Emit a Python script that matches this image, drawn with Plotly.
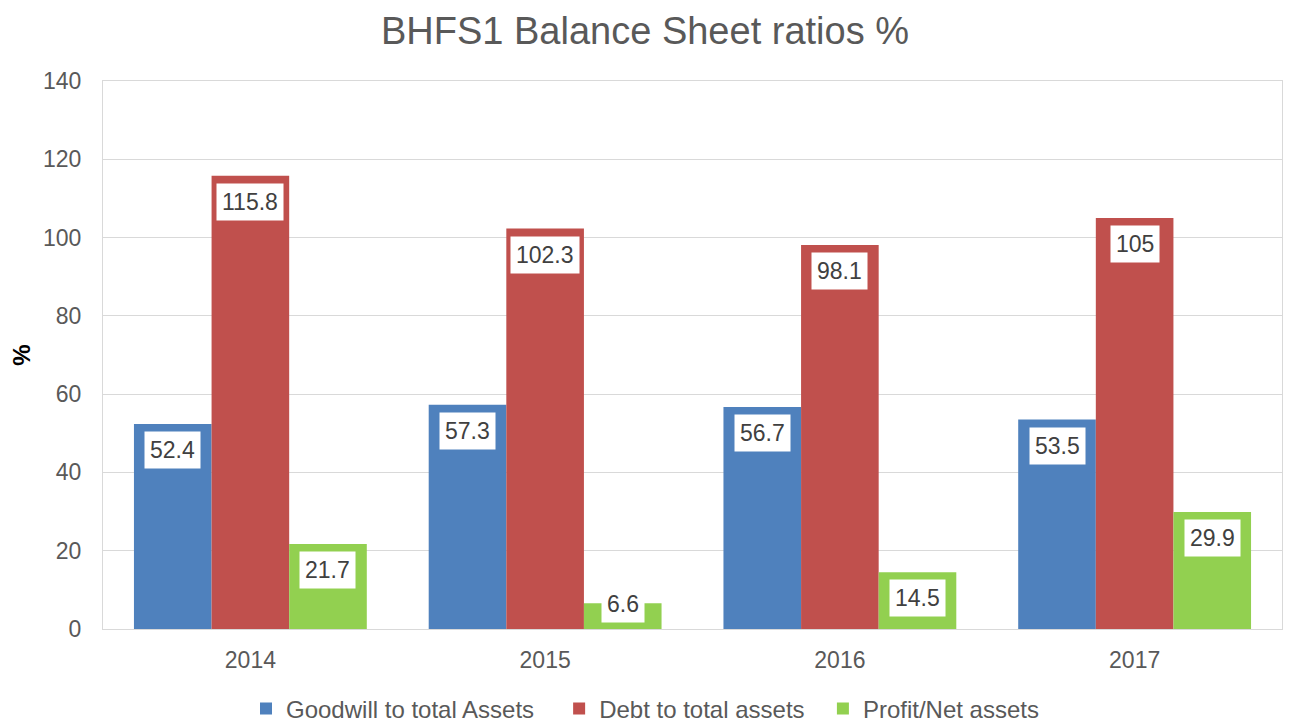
import plotly.graph_objects as go

years = ["2014", "2015", "2016", "2017"]
series_names = ["Goodwill to total Assets", "Debt to total assets", "Profit/Net assets"]
goodwill = [52.4, 57.3, 56.7, 53.5]
debt = [115.8, 102.3, 98.1, 105]
profit = [21.7, 6.6, 14.5, 29.9]
colors = ["#4F81BD", "#C0504D", "#92D050"]
legend_pads = [3, 2, 0]

FONT = "Liberation Sans, Arial, sans-serif"
GREY = "#595959"
BARGAP = 0.21

fig = go.Figure()
all_series = [goodwill, debt, profit]
for name, vals, col, p in zip(series_names, all_series, colors, legend_pads):
    fig.add_trace(go.Bar(x=years, y=vals, name=name + "&nbsp;" * p,
                         marker=dict(color=col, line=dict(width=0))))

# data labels as white boxes inside the bar end
w = (1 - BARGAP) / 3
for k, vals in enumerate(all_series):
    for i, v in enumerate(vals):
        fig.add_annotation(
            x=i + (k - 1) * w, y=max(v, 13), xref="x", yref="y",
            text=f"{v:g}", showarrow=False, yanchor="middle", yshift=-26,
            bgcolor="white", borderpad=5,
            font=dict(family=FONT, size=23, color="#404040"),
        )

fig.update_layout(
    width=1290, height=722,
    barmode="group", bargap=BARGAP, bargroupgap=0,
    paper_bgcolor="white", plot_bgcolor="white",
    margin=dict(l=103, r=8, t=81, b=93),
    title=dict(text="BHFS1 Balance Sheet ratios %", x=0.5, xanchor="center",
               y=1 - 31 / 722, yanchor="middle",
               font=dict(family=FONT, size=38, color=GREY)),
    legend=dict(orientation="h", xref="container", yref="container",
                x=0.5, xanchor="center", y=1 - 709 / 722, yanchor="middle",
                font=dict(family=FONT, size=24, color=GREY),
                itemsizing="constant", itemwidth=30, traceorder="normal"),
    font=dict(family=FONT, color=GREY),
)
fig.update_xaxes(
    type="category", showline=True, linecolor="#D9D9D9", linewidth=1, mirror=True,
    showgrid=False, ticks="", tickfont=dict(family=FONT, size=23, color=GREY),
    ticklabelstandoff=10,
)
fig.update_yaxes(
    range=[0, 140], dtick=20, showgrid=True, gridcolor="#D9D9D9", gridwidth=1,
    showline=True, linecolor="#D9D9D9", linewidth=1, mirror=True, zeroline=False,
    ticks="", tickfont=dict(family=FONT, size=23, color=GREY), ticklabelstandoff=16,
    title=dict(text="<b>%</b>", font=dict(family=FONT, size=24, color="#000000"), standoff=5),
)

fig.write_html("out.html", config={"displayModeBar": False},
               post_script="document.body.style.margin='0';document.body.style.overflow='hidden';")
